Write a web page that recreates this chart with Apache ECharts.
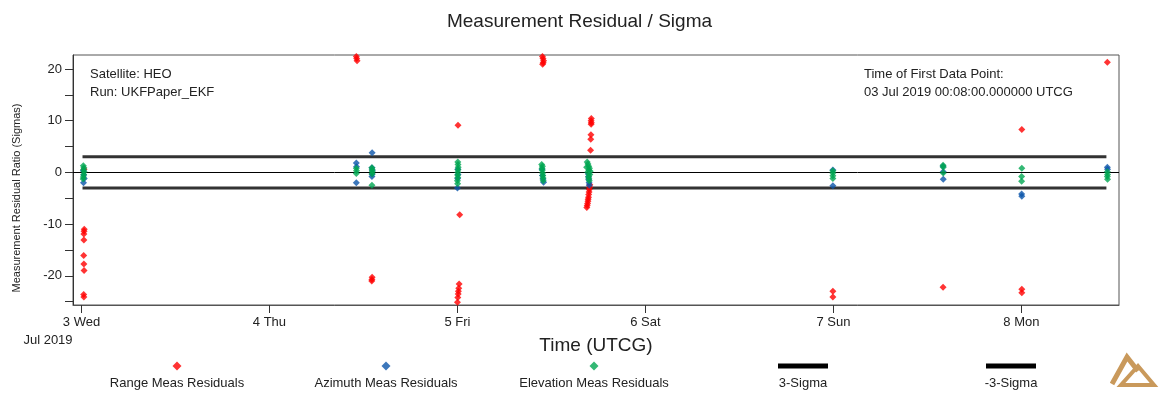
<!DOCTYPE html>
<html>
<head>
<meta charset="utf-8">
<script src="https://cdn.jsdelivr.net/npm/echarts@6/dist/echarts.min.js"></script>
<style>
html,body{margin:0;padding:0;background:#fff;}
#chart{width:1159px;height:403px;}
</style>
</head>
<body>
<div id="chart"></div>
<script>
// Time in days since 03 Jul 2019 00:00 UTCG
var dayTicks = [0, 1, 2, 3, 4, 5];
var dayLabels = ['3 Wed', '4 Thu', '5 Fri', '6 Sat', '7 Sun', '8 Mon'];
var yTicks = [-25, -20, -15, -10, -5, 0, 5, 10, 15, 20];
var yLabels = [-20, -10, 0, 10, 20];

var rangeT = [0.014,0.015,0.014,0.013,0.013,0.012,0.013,0.014,0.012,0.013,
  1.462,1.464,1.466,
  1.546,1.545,1.544,
  2.003,2.012,2.009,2.007,2.005,2.004,2.002,2.000,
  2.452,2.455,2.458,2.456,2.453,
  2.712,2.711,2.712,2.711,2.710,2.709,2.708,2.704,2.703,2.701,2.700,2.698,2.697,2.695,2.694,2.692,2.690,2.688,
  3.997,3.997,
  4.583,
  5.002,5.002,5.002,
  5.457];
var rangeV = [0.6,-11.0,-11.4,-11.9,-13.1,-16.1,-17.7,-19.0,-23.6,-24.1,
  22.4,22.0,21.6,
  -20.3,-20.7,-21.0,
  9.1,-8.2,-21.6,-22.4,-23.0,-23.5,-24.2,-25.1,
  22.4,22.0,21.6,21.2,20.9,
  10.4,10.0,9.6,9.3,7.3,6.4,4.3,-2.4,-2.9,-3.3,-3.8,-4.3,-4.8,-5.2,-5.6,-6.0,-6.4,-6.8,
  -23.0,-24.1,
  -22.2,
  8.3,-22.6,-23.3,
  21.3];

var azT = [0.010,0.012,0.015,0.011,
  1.462,1.463,1.462,
  1.546,1.545,1.547,1.546,1.545,
  2.002,2.003,2.001,2.000,
  2.450,2.452,2.455,2.458,
  2.696,2.697,2.698,2.700,2.701,
  3.997,3.997,
  4.583,4.584,4.584,
  5.001,5.002,
  5.457,5.458];
var azV = [0.3,-0.5,-1.2,-2.0,
  1.8,1.1,-2.0,
  3.8,0.9,0.4,-0.3,-0.8,
  0.6,-0.4,-1.2,-3.0,
  0.6,-0.6,-1.3,-1.9,
  -0.3,-0.9,-1.4,-2.0,-2.5,
  0.45,-2.6,
  1.2,0.1,-1.35,
  -4.2,-4.6,
  1.0,0.6];

var elT = [0.010,0.013,0.011,0.014,0.012,0.010,0.009,
  1.462,1.463,1.462,
  1.545,1.546,1.547,1.546,1.545,
  2.002,2.003,2.004,2.003,2.002,2.001,2.002,2.000,2.001,
  2.448,2.452,2.450,2.451,2.453,2.454,2.455,2.456,
  2.690,2.694,2.698,2.702,2.699,2.693,2.704,2.697,2.699,2.701,2.687,2.706,
  3.997,3.997,3.997,3.997,
  4.583,4.584,4.584,
  5.002,5.001,5.001,
  5.457,5.458,5.457,5.458];
var elV = [1.3,0.9,0.5,0.1,-0.4,-0.9,-1.3,
  0.8,0.3,-0.2,
  0.9,0.5,0.1,-0.3,-2.5,
  2.0,1.5,1.0,0.5,0.0,-0.5,-1.0,-1.6,-2.2,
  1.5,1.2,0.8,0.4,-0.1,-0.6,-1.1,-1.6,
  2.0,1.6,1.2,0.8,0.4,0.0,-0.4,-0.8,-1.2,-1.6,1.0,0.2,
  0.3,-0.1,-0.65,-1.2,
  1.4,1.0,-0.1,
  0.8,-0.8,-1.7,
  0.1,-0.4,-0.8,-1.35];

var sigmaT = [0.0056, 5.452];
var plusSigma = [3, 3];
var minusSigma = [-3, -3];

function zip(t, v) { return t.map(function (x, i) { return [x, v[i]]; }); }

var legendNames = ['Range Meas Residuals', 'Azimuth Meas Residuals', 'Elevation Meas Residuals', '3-Sigma', '-3-Sigma'];
var legendCenters = [177, 386, 594, 803, 1011];
var colors = ['#FF0000', '#0B55AA', '#00A651', '#000000', '#000000'];
var FONT = '13px "Liberation Sans", Arial, sans-serif';

var legends = legendNames.map(function (n, i) {
  var isLine = i >= 3;
  var w = isLine ? 50 : 9;
  var h = isLine ? 5 : 9;
  return {
    data: [{ name: n, icon: isLine ? 'rect' : 'diamond', itemStyle: { color: colors[i] } }],
    left: legendCenters[i] - w / 2,
    top: 366 - h / 2,
    itemWidth: w,
    itemHeight: h,
    itemGap: 0,
    padding: 0,
    formatter: function () { return ''; },
    textStyle: { fontSize: 1 }
  };
});

var graphics = legendNames.map(function (n, i) {
  return {
    type: 'text', x: legendCenters[i], y: 383,
    style: { text: n, align: 'center', verticalAlign: 'middle', fill: '#222', font: FONT }
  };
});
graphics.push(
  { type: 'text', x: 90, y: 74, style: { text: 'Satellite: HEO', verticalAlign: 'middle', fill: '#222', font: FONT } },
  { type: 'text', x: 90, y: 92, style: { text: 'Run: UKFPaper_EKF', verticalAlign: 'middle', fill: '#222', font: FONT } },
  { type: 'text', x: 864, y: 74, style: { text: 'Time of First Data Point:', verticalAlign: 'middle', fill: '#222', font: FONT } },
  { type: 'text', x: 864, y: 92, style: { text: '03 Jul 2019 00:08:00.000000 UTCG', verticalAlign: 'middle', fill: '#222', font: FONT } },
  { type: 'text', x: 48, y: 340, style: { text: 'Jul 2019', align: 'center', verticalAlign: 'middle', fill: '#222', font: FONT } },
  { type: 'text', x: 17, y: 198, rotation: Math.PI / 2, style: { text: 'Measurement Residual Ratio (Sigmas)', align: 'center', verticalAlign: 'middle', fill: '#222', font: '11px "Liberation Sans", Arial, sans-serif' } },
  // logo
  { type: 'polyline', shape: { points: [[1112, 384], [1127, 357], [1138, 371]] }, style: { stroke: '#C9995B', lineWidth: 5, fill: null } },
  { type: 'polygon', shape: { points: [[1138, 366], [1154, 385], [1121, 385]] }, style: { stroke: '#C9995B', lineWidth: 4, fill: null } }
);

var chart = echarts.init(document.getElementById('chart'), null, { renderer: 'canvas' });
chart.setOption({
  animation: false,
  backgroundColor: '#ffffff',
  textStyle: { fontFamily: '"Liberation Sans", Arial, sans-serif' },
  title: {
    text: 'Measurement Residual / Sigma',
    left: 'center', top: 7,
    textStyle: { fontSize: 19, fontWeight: 'normal', color: '#222', fontFamily: '"Liberation Sans", Arial, sans-serif' }
  },
  legend: legends,
  grid: { left: 73, right: 40, top: 55, bottom: 98, show: true, borderColor: '#555', borderWidth: 1, containLabel: false },
  xAxis: {
    type: 'value', min: -0.045, max: 5.519,
    name: 'Time (UTCG)', nameLocation: 'middle', nameGap: 31,
    nameTextStyle: { fontSize: 19, color: '#222' },
    axisLine: { show: true, onZero: false, lineStyle: { color: '#555', width: 1 } },
    axisTick: { show: true, length: 8, customValues: dayTicks, lineStyle: { color: '#333' } },
    axisLabel: {
      customValues: dayTicks, margin: 11, fontSize: 13, color: '#222',
      formatter: function (v) { var i = dayTicks.indexOf(Math.round(v)); return i >= 0 ? dayLabels[i] : ''; }
    },
    splitLine: { show: false }
  },
  yAxis: {
    type: 'value', min: -25.65, max: 22.7,
    axisLine: { show: true, onZero: false, lineStyle: { color: '#333', width: 1 } },
    axisTick: { show: true, length: 8, customValues: yTicks, lineStyle: { color: '#333' } },
    axisLabel: { customValues: yLabels, margin: 11, fontSize: 13, color: '#222' },
    splitLine: { show: false }
  },
  series: [
    {
      name: legendNames[0], type: 'scatter', symbol: 'diamond', symbolSize: 7,
      itemStyle: { color: colors[0] }, data: zip(rangeT, rangeV), z: 3,
      markLine: {
        silent: true, symbol: ['none', 'none'], label: { show: false },
        lineStyle: { color: '#000', width: 1, type: 'solid' },
        data: [{ yAxis: 0 }]
      }
    },
    { name: legendNames[1], type: 'scatter', symbol: 'diamond', symbolSize: 7, itemStyle: { color: colors[1] }, data: zip(azT, azV), z: 4 },
    { name: legendNames[2], type: 'scatter', symbol: 'diamond', symbolSize: 7, itemStyle: { color: colors[2] }, data: zip(elT, elV), z: 5 },
    { name: legendNames[3], type: 'line', symbol: 'none', lineStyle: { color: '#333', width: 3 }, itemStyle: { color: '#000' }, data: zip(sigmaT, plusSigma), z: 2 },
    { name: legendNames[4], type: 'line', symbol: 'none', lineStyle: { color: '#333', width: 3 }, itemStyle: { color: '#000' }, data: zip(sigmaT, minusSigma), z: 2 }
  ],
  graphic: graphics
});
</script>
</body>
</html>
